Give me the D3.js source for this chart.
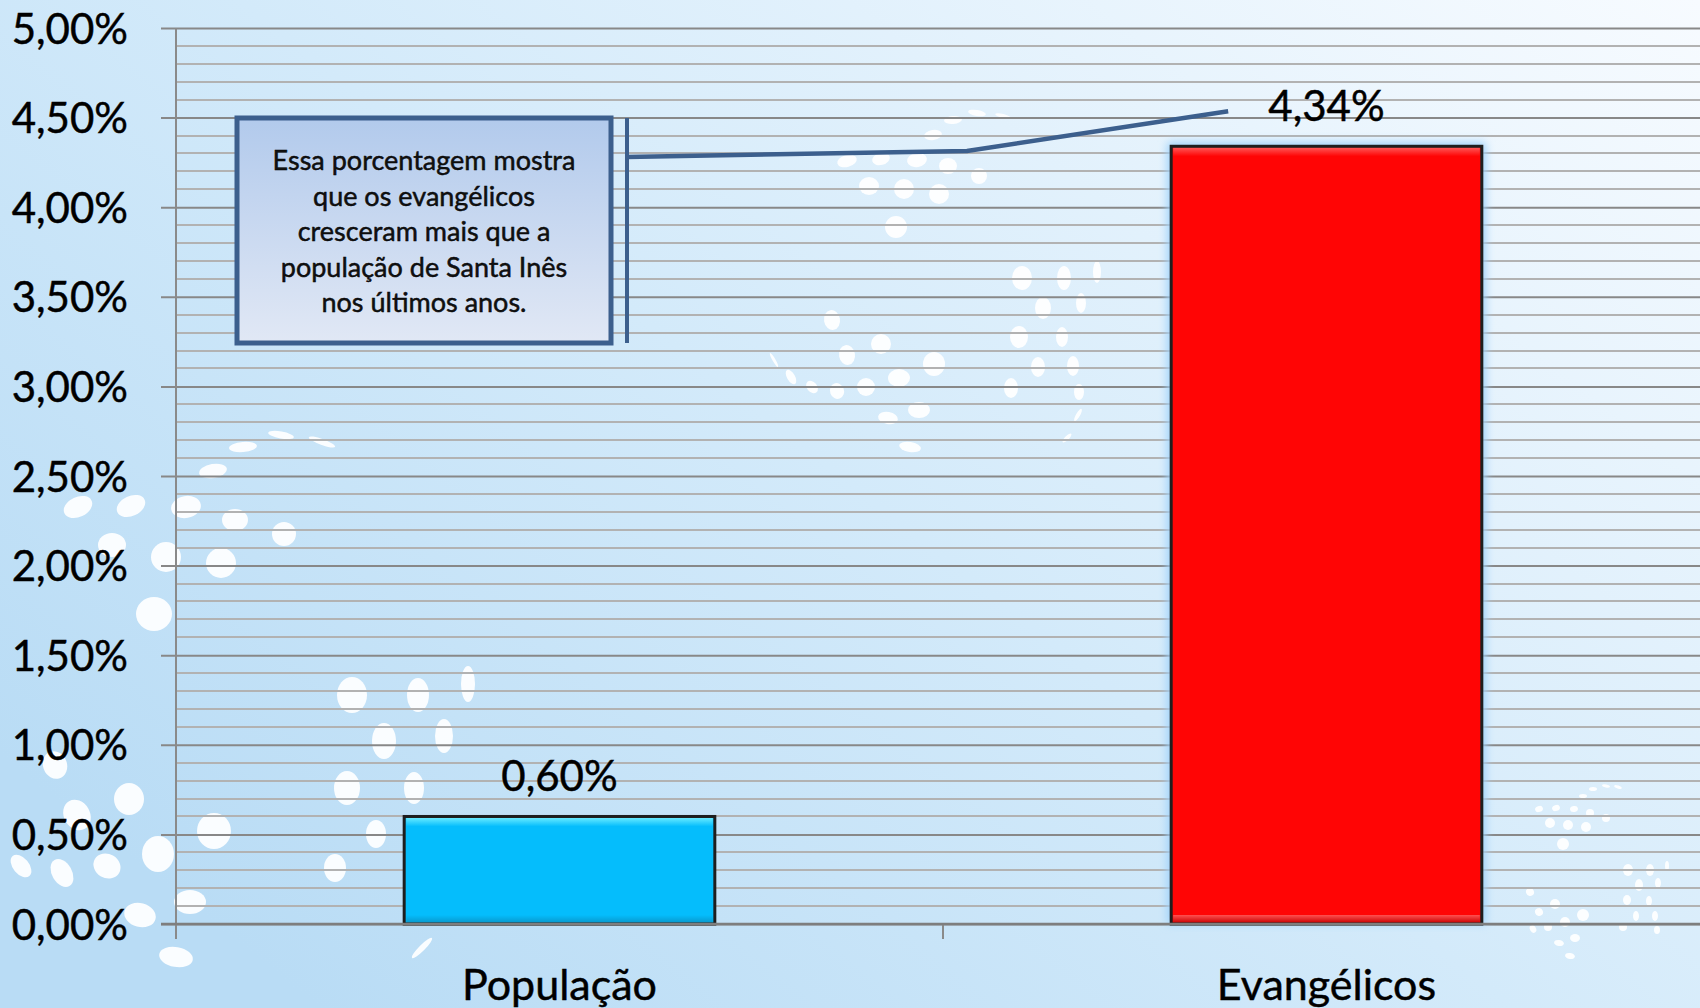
<!DOCTYPE html>
<html>
<head>
<meta charset="utf-8">
<script src="https://cdn.jsdelivr.net/npm/d3@7"></script>
<style>
  body { margin: 0; padding: 0; overflow: hidden; }
  svg { display: block; font-family: Lato, "Open Sans", sans-serif; }
  text { stroke: #000; stroke-width: 0.45px; }
</style>
</head>
<body>
<svg id="chart"></svg>
<script>

// chart data
var categories = ["População", "Evangélicos"];
var values = [0.60, 4.34];
var barColors = ["#05bdfc", "#ff0505"];
var yMajorTicks = [0, 0.5, 1, 1.5, 2, 2.5, 3, 3.5, 4, 4.5, 5];
var yMinorStep = 0.1;
var calloutLines = ["Essa porcentagem mostra", "que os evangélicos", "cresceram mais que a", "população de Santa Inês", "nos últimos anos."];

// background swirl dots [x, y, rx, ry, rotate] - decoration only
var decor = [
  [281,435,13,3.5,10],[322,442,14,3,20],[243,447,14,5,-5],[213,471,14,7,-10],[186,507,15,11,-10],[235,520,13,11,0],
  [284,534,12,12,0],[78,507,15,10,-25],[131,506,15,10,-25],[166,557,15,15,0],[221,563,15,15,0],[112,545,14,12,0],
  [154,614,18,17,0],[352,695,15,18,0],[418,695,11,17,0],[468,684,7,18,0],[384,741,12,18,0],[444,736,9,17,0],
  [347,788,13,17,0],[414,788,10,16,0],[376,834,10,14,0],[335,868,11,14,0],[422,948,3,14,45],[214,831,17,18,0],
  [129,799,15,16,0],[55,765,12,14,-20],[77,815,13,16,-30],[158,854,16,18,0],[107,866,14,12,30],[62,873,10,15,-30],
  [21,866,8,13,-40],[190,902,16,12,0],[140,915,16,12,15],[176,957,17,10,10],
  [977,113,9,3,10],[1003,116,8,2,15],[953,120,9,4,-5],[933,135,9,5,-10],[847,161,10,6,-15],[881,159,9,6,-15],
  [917,160,10,7,-10],[948,166,9,8,0],[979,176,8,8,0],[869,186,10,9,0],[904,189,10,10,0],[939,194,10,10,0],
  [896,227,11,11,0],[1022,278,10,12,0],[1064,278,7,12,0],[1097,272,4,11,0],[1043,308,8,11,0],[1081,303,5,10,0],
  [1019,337,9,11,0],[1062,337,6,10,0],[1038,367,7,10,0],[1073,366,6,10,0],[1011,388,7,10,0],[1079,392,5,8,0],
  [1078,415,2,7,30],[1067,438,2,6,45],[832,320,8,10,-10],[881,344,10,10,0],[847,355,8,10,-10],[934,364,11,12,0],
  [899,378,11,9,0],[866,387,9,9,0],[837,391,7,8,-20],[812,387,5,7,-40],[791,377,4,8,-30],[774,360,1.5,8,-30],
  [919,410,11,8,0],[888,418,10,6,10],[910,447,11,5,10],
  [1539,809,4,3,-20],[1556,808,4,3,-20],[1574,809,4,3,-10],[1590,813,4,4,0],[1606,818,4,4,0],[1550,823,5,5,0],
  [1568,825,5,5,0],[1586,827,5,5,0],[1563,844,6,6,0],[1583,796,4,2,0],[1593,789,4,2,0],[1606,786,4,1.5,10],
  [1618,787,4,1.5,20],[1628,870,5,6,0],[1650,870,4,6,0],[1667,866,2,5,0],[1639,885,4,6,0],[1658,883,3,5,0],
  [1627,900,4,5,0],[1649,901,3,5,0],[1636,916,3,5,0],[1655,916,3,5,0],[1623,927,4,4,0],[1657,930,3,4,0],
  [1530,892,4,4,-20],[1555,904,5,5,0],[1583,915,6,6,0],[1539,912,4,4,-20],[1565,922,5,5,0],[1548,927,4,4,0],
  [1533,929,3,4,-30],[1575,938,5,4,0],[1559,943,5,3,10],[1570,956,5,3,10]
];

var W = 1700, H = 1008;
var margin = {top: 28, left: 176, bottom: 84};

var svg = d3.select("#chart").attr("width", W).attr("height", H);
var defs = svg.append("defs");

var bg = defs.append("linearGradient").attr("id", "bg")
    .attr("x1", "0").attr("y1", "0.75").attr("x2", "1").attr("y2", "0");
bg.append("stop").attr("offset", "0%").attr("stop-color", "#b9dcf5");
bg.append("stop").attr("offset", "45%").attr("stop-color", "#d3eafa");
bg.append("stop").attr("offset", "100%").attr("stop-color", "#f7fbff");

var boxGrad = defs.append("linearGradient").attr("id", "boxGrad")
    .attr("x1", "0").attr("y1", "0").attr("x2", "0").attr("y2", "1");
boxGrad.append("stop").attr("offset", "0%").attr("stop-color", "#b2caec");
boxGrad.append("stop").attr("offset", "100%").attr("stop-color", "#e1e8f5");

// small vertical gradients used for the bevel edges
function vgrad(id, c0, c1) {
  var g = defs.append("linearGradient").attr("id", id)
      .attr("x1", "0").attr("y1", "0").attr("x2", "0").attr("y2", "1");
  g.append("stop").attr("offset", "0%").attr("stop-color", c0);
  g.append("stop").attr("offset", "100%").attr("stop-color", c1);
}
vgrad("top0", "#6cecff", barColors[0]);
vgrad("bot0", barColors[0], "#0898cc");
vgrad("top1", "#ff5a5a", barColors[1]);
vgrad("bot1", "#ff5050", "#c80000");

defs.append("filter").attr("id", "glow").attr("x", "-20%").attr("y", "-20%").attr("width", "140%").attr("height", "140%")
    .append("feGaussianBlur").attr("stdDeviation", 4);

svg.append("rect").attr("width", W).attr("height", H).attr("fill", "url(#bg)");

svg.append("g").selectAll("ellipse")
    .data(decor)
    .enter().append("ellipse")
    .attr("cx", function(d) { return d[0]; })
    .attr("cy", function(d) { return d[1]; })
    .attr("rx", function(d) { return d[2]; })
    .attr("ry", function(d) { return d[3]; })
    .attr("transform", function(d) { return "rotate(" + d[4] + "," + d[0] + "," + d[1] + ")"; })
    .attr("fill", "#ffffff")
    .attr("opacity", 0.92);

var y = d3.scaleLinear().domain([0, 5]).range([924, margin.top]);
var x = d3.scaleBand().domain(categories).range([margin.left, 1710])
    .paddingInner(0.595).paddingOuter(0.2975);
var step = x.step();

var loc = d3.formatLocale({decimal: ",", thousands: ".", grouping: [3], currency: ["", ""]});
var fmt = loc.format(".2f");

// minor gridlines
var minor = d3.range(0, 50).map(function(i) { return i * yMinorStep; })
    .filter(function(v) { return Math.round(v * 10) % 5 !== 0; });
svg.append("g").selectAll("line")
    .data(minor)
    .enter().append("line")
    .attr("x1", margin.left).attr("x2", W)
    .attr("y1", function(d) { return Math.round(y(d)); })
    .attr("y2", function(d) { return Math.round(y(d)); })
    .attr("stroke", "#b2b2b2").attr("stroke-width", 2);

// major gridlines + y axis
var yAxis = d3.axisLeft(y).tickValues(yMajorTicks).tickSize(15).tickPadding(32)
    .tickFormat(function(d) { return fmt(d) + "%"; });
var gy = svg.append("g").attr("transform", "translate(" + margin.left + ",0)").call(yAxis);
gy.select(".domain").remove();
gy.selectAll(".tick line").attr("stroke", "#888888").attr("stroke-width", 2).attr("x2", W - margin.left).attr("x1", -15);
gy.selectAll(".tick text").attr("font-family", "Lato, 'Open Sans', sans-serif").attr("font-size", 42)
    .attr("fill", "#000").attr("dy", "0.36em").attr("x", -48);

svg.append("line")
    .attr("x1", margin.left).attr("x2", margin.left)
    .attr("y1", y(5)).attr("y2", y(0) + 15)
    .attr("stroke", "#8a8a8a").attr("stroke-width", 2);

// x axis ticks at band boundaries
svg.append("g").selectAll("line")
    .data(categories.slice(1))
    .enter().append("line")
    .attr("x1", function(d) { return x(d) - step * 0.595 / 2; })
    .attr("x2", function(d) { return x(d) - step * 0.595 / 2; })
    .attr("y1", y(0)).attr("y2", y(0) + 15)
    .attr("stroke", "#8a8a8a").attr("stroke-width", 2);

// bars
var bars = svg.append("g");
bars.append("rect")
    .datum(categories[1])
    .attr("x", function(d) { return x(d) - 4; })
    .attr("y", y(values[1]) - 4)
    .attr("width", x.bandwidth() + 8)
    .attr("height", y(0) - y(values[1]) + 4)
    .attr("fill", "#9fd2fa")
    .attr("filter", "url(#glow)");

var bar = bars.selectAll(".bar")
    .data(categories)
    .enter().append("g")
    .attr("class", "bar");

bar.append("rect")
    .attr("x", function(d) { return x(d); })
    .attr("y", function(d, i) { return y(values[i]); })
    .attr("width", x.bandwidth())
    .attr("height", function(d, i) { return y(0) - y(values[i]); })
    .attr("fill", function(d, i) { return barColors[i]; });

// bevel edges, fixed size
bar.append("rect")
    .attr("x", function(d) { return x(d) + 2; })
    .attr("y", function(d, i) { return y(values[i]) + 1; })
    .attr("width", x.bandwidth() - 4)
    .attr("height", 9)
    .attr("fill", function(d, i) { return "url(#top" + i + ")"; });
bar.append("rect")
    .attr("x", function(d) { return x(d) + 2; })
    .attr("y", y(0) - 9)
    .attr("width", x.bandwidth() - 4)
    .attr("height", 8)
    .attr("fill", function(d, i) { return "url(#bot" + i + ")"; });

bar.append("rect")
    .attr("x", function(d) { return x(d); })
    .attr("y", function(d, i) { return y(values[i]); })
    .attr("width", x.bandwidth())
    .attr("height", function(d, i) { return y(0) - y(values[i]); })
    .attr("fill", "none")
    .attr("stroke", "#1e1e1e").attr("stroke-width", 3);

svg.append("line")
    .attr("x1", margin.left - 15).attr("x2", W)
    .attr("y1", y(0)).attr("y2", y(0))
    .attr("stroke", "#7e7e7e").attr("stroke-width", 2.5);

// value labels
svg.append("g").selectAll("text")
    .data(categories)
    .enter().append("text")
    .attr("x", function(d) { return x(d) + x.bandwidth() / 2; })
    .attr("y", function(d, i) { return y(values[i]) - 25; })
    .attr("text-anchor", "middle")
    .attr("font-size", 42)
    .text(function(d, i) { return fmt(values[i]) + "%"; });

// category labels
svg.append("g").selectAll("text")
    .data(categories)
    .enter().append("text")
    .attr("x", function(d) { return x(d) + x.bandwidth() / 2; })
    .attr("y", 1000)
    .attr("text-anchor", "middle")
    .attr("font-size", 43)
    .text(function(d) { return d; });

// callout
var box = {x: 237, y: 118, w: 374, h: 225};
svg.append("rect")
    .attr("x", box.x).attr("y", box.y).attr("width", box.w).attr("height", box.h)
    .attr("fill", "url(#boxGrad)")
    .attr("stroke", "#3c5f8d").attr("stroke-width", 5);

svg.append("line")
    .attr("x1", 627).attr("x2", 627).attr("y1", 118).attr("y2", 343)
    .attr("stroke", "#3c5f8d").attr("stroke-width", 4);

var endX = x(categories[1]) + 57;
var endY = y(values[1]) - 35;
svg.append("path")
    .attr("d", d3.line()([[627, 157], [967, 151], [endX, endY]]))
    .attr("fill", "none")
    .attr("stroke", "#3c5f8d").attr("stroke-width", 4.5);

svg.append("g").selectAll("text")
    .data(calloutLines)
    .enter().append("text")
    .attr("x", box.x + box.w / 2)
    .attr("y", function(d, i) { return 170 + i * 35.6; })
    .attr("text-anchor", "middle")
    .attr("font-size", 27)
    .attr("stroke-width", 0.3)
    .attr("fill", "#111")
    .text(function(d) { return d; });

</script>
</body>
</html>
